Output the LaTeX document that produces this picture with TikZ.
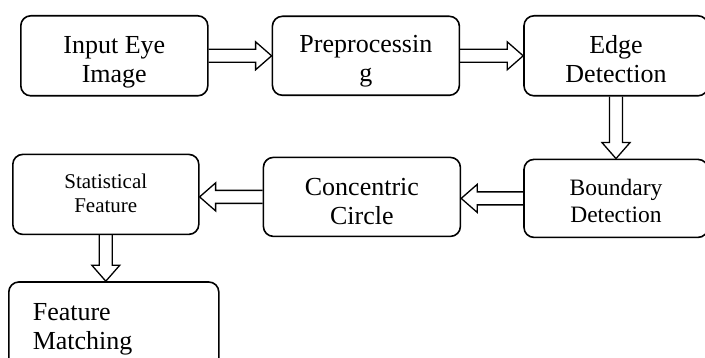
\documentclass[tikz,border=0pt]{standalone}
\usepackage{fontspec}
\setmainfont{Liberation Serif}
\usetikzlibrary{positioning,calc}

\newcommand{\fatarrow}[2]{%
  \draw[fatline] let \p1=(#1), \p2=(#2), \n1={atan2(\y2-\y1,\x2-\x1)}, \n2={veclen(\x2-\x1,\y2-\y1)} in
    [shift={(\p1)}, rotate=\n1] (0,6.5) -- (\n2-16,6.5) -- (\n2-16,14) -- (\n2,0) -- (\n2-16,-14) -- (\n2-16,-6.5) -- (0,-6.5);}

\begin{document}
\begin{tikzpicture}[x=1pt, y=-1pt, node distance=63pt,
    stepbox/.style={draw, line width=1.6pt, rounded corners=10pt, align=center, inner sep=0pt},
    fatline/.style={line width=1.3pt, line join=miter},
    big/.style={font=\fontsize{26pt}{29pt}\selectfont}]
  \useasboundingbox (0,0) rectangle (705,358);
  \node[stepbox, big, anchor=north west, minimum width=187pt, text height=67pt, text depth=13pt] (input) at (20,15) {Input Eye\\Image};
  \node[stepbox, big, minimum width=187pt, text height=65pt, text depth=14pt] (prep) [right=of input] {Preprocessin\\g};
  \node[stepbox, big, minimum width=184pt, text height=67pt, text depth=13pt] (edge) [right=of prep] {Edge\\Detection};
  \node[stepbox, font=\fontsize{23.5pt}{27pt}\selectfont, minimum width=184pt, text height=63pt, text depth=15pt] (boundary) [below=62pt of edge] {Boundary\\Detection};
  \node[stepbox, big, minimum width=197pt, text height=67pt, text depth=12pt, yshift=1.5pt] (concentric) [left=62pt of boundary] {Concentric\\Circle};
  \node[stepbox, font=\fontsize{21pt}{24pt}\selectfont, minimum width=186pt, text height=58pt, text depth=22pt, yshift=2.5pt] (stat) [left=of concentric] {Statistical\\Feature};
  \node[stepbox, big, align=left, text width=162pt, inner xsep=24pt, text height=39pt, text depth=51pt] (matching) [below=46pt of stat, xshift=8pt] {Feature\\Matching};
  \fatarrow{input.east}{prep.west}
  \fatarrow{prep.east}{edge.west}
  \fatarrow{edge.south}{boundary.north}
  \fatarrow{boundary.west}{boundary.west -| concentric.east}
  \fatarrow{concentric.west}{concentric.west -| stat.east}
  \fatarrow{stat.south}{stat.south |- matching.north}
\end{tikzpicture}
\end{document}
